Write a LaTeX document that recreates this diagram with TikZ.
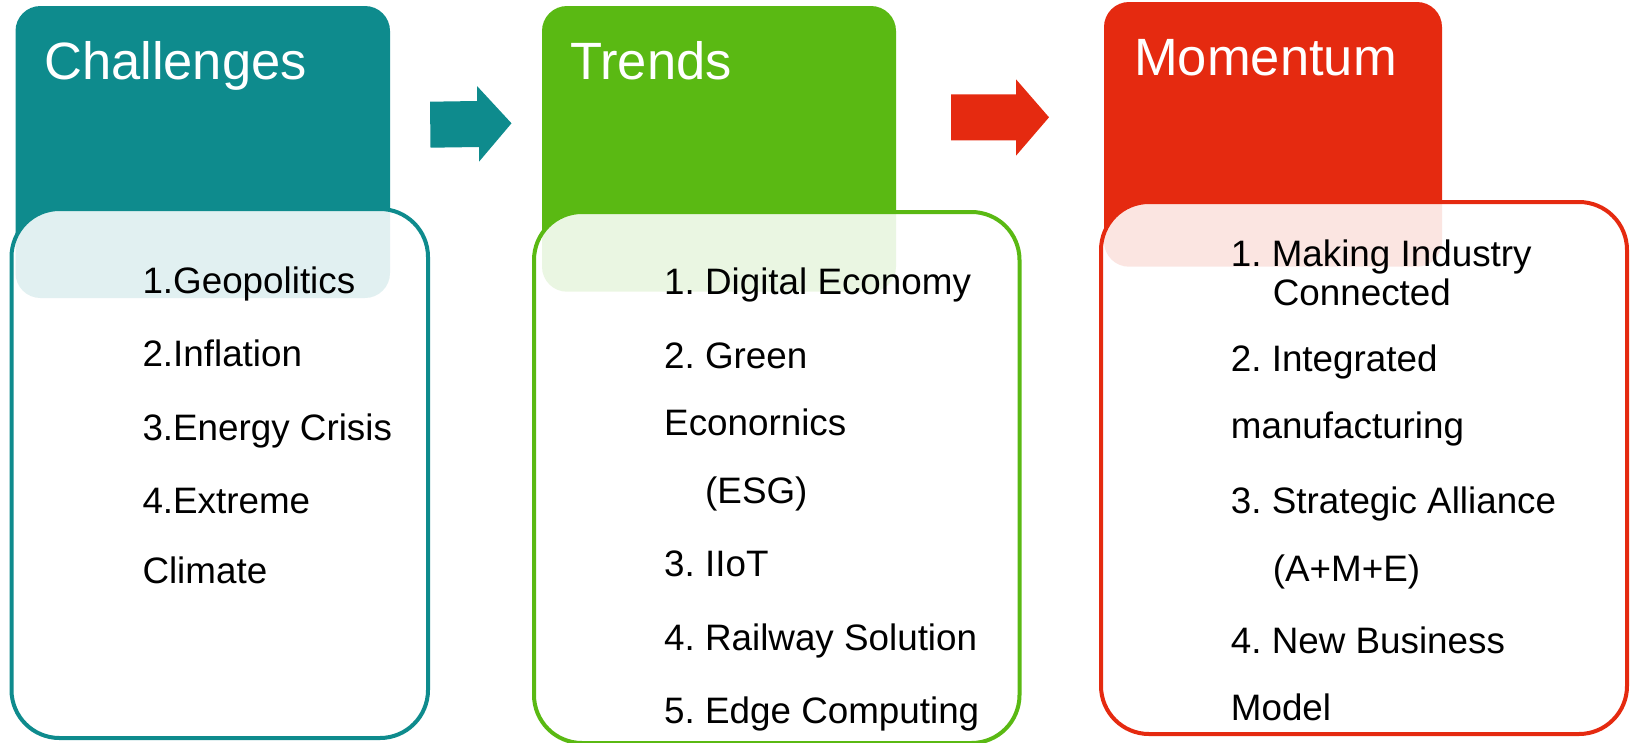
\documentclass[tikz,border=0pt]{standalone}
\usepackage{fontspec}
\setmainfont{Liberation Sans}
\frenchspacing
\definecolor{chTeal}{RGB}{14,139,141}
\definecolor{trGreen}{RGB}{90,185,19}
\definecolor{moRed}{RGB}{229,42,16}
\newcommand{\headfont}{\fontsize{52.5}{60}\selectfont}
\newcommand{\itemfont}{\fontsize{36.8}{42}\selectfont}

\begin{document}
\begin{tikzpicture}[x=1pt,y=-1pt]
  \tikzstyle{head}=[rectangle,rounded corners=25pt,inner sep=0pt]
  \tikzstyle{card}=[rectangle,rounded corners=48pt,line width=4pt,fill=white,fill opacity=0.88,inner sep=0pt]
  \tikzstyle{title}=[anchor=base west,inner sep=0pt,text=white,font=\headfont]
  \tikzstyle{item}=[anchor=base west,inner sep=0pt,font=\itemfont]
  \useasboundingbox (0,0) rectangle (1630,742);
  % coloured headers
  \node (chHead) [head,fill=chTeal,minimum width=374.5pt,minimum height=292pt] at (202.75,152) {};
  \node (trHead) [head,fill=trGreen,minimum width=354pt,minimum height=285.7pt] at (719,148.85) {};
  \node (moHead) [head,fill=moRed,minimum width=338pt,minimum height=264.7pt] at (1273,134.35) {};
  % white cards over them
  \node (chCard) [card,draw=chTeal,minimum width=416.5pt,minimum height=529pt] at (219.75,473.5) {};
  \node (trCard) [card,draw=trGreen,minimum width=485.5pt,minimum height=531pt] at (776.75,477.5) {};
  \node (moCard) [card,draw=moRed,minimum width=526pt,minimum height=532pt] at (1364,468) {};
  % block arrows
  \fill [chTeal] (430,101.7) -- (477,101) -- (477,86) -- (511.5,123.3) -- (479,161.7)
    -- (479,147) -- (430.5,147.7) -- cycle;
  \fill [moRed] (951,94.3) -- (1016,94.3) -- (1016,79.3) -- (1049,117.3) -- (1016,155.7)
    -- (1016,140.3) -- (951,140.3) -- cycle;
  % titles
  \node (chTitle) [title] at (44,79.5) {Challenges};
  \node (trTitle) [title] at (570,79.3) {Trends};
  \node (moTitle) [title] at (1134,75.3) {Momentum};
  % challenges
  \node (ch1) [item] at (142.3,293.3) {1.Geopolitics};
  \node (ch2) [item] at (142.3,366.7) {2.Inflation};
  \node (ch3) [item] at (142.3,440) {3.Energy Crisis};
  \node (ch4) [item] at (142.3,513.3) {4.Extreme};
  \node (ch4b) [item] at (142.3,583.3) {Climate};
  % trends
  \node (tr1) [item] at (664,294.3) {1. Digital Economy};
  \node (tr2) [item] at (664,368.3) {2. Green};
  \node (tr2b) [item] at (664,435) {Econornics};
  \node (tr2c) [item] at (705,503.3) {(ESG)};
  \node (tr3) [item] at (664,576.7) {3. IIoT};
  \node (tr4) [item] at (664,650) {4. Railway Solution};
  \node (tr5) [item] at (664,723.3) {5. Edge Computing};
  % momentum
  \node (mo1) [item] at (1230.7,266) {1. Making Industry};
  \node (mo1b) [item] at (1272.7,305) {Connected};
  \node (mo2) [item] at (1230.7,371.7) {2. Integrated};
  \node (mo2b) [item] at (1230.7,438.3) {manufacturing};
  \node (mo3) [item] at (1230.7,513.3) {3. Strategic Alliance};
  \node (mo3b) [item] at (1272.7,581.7) {(A+M+E)};
  \node (mo4) [item] at (1230.7,653.3) {4. New Business};
  \node (mo4b) [item] at (1230.7,720) {Model};
\end{tikzpicture}
\end{document}
